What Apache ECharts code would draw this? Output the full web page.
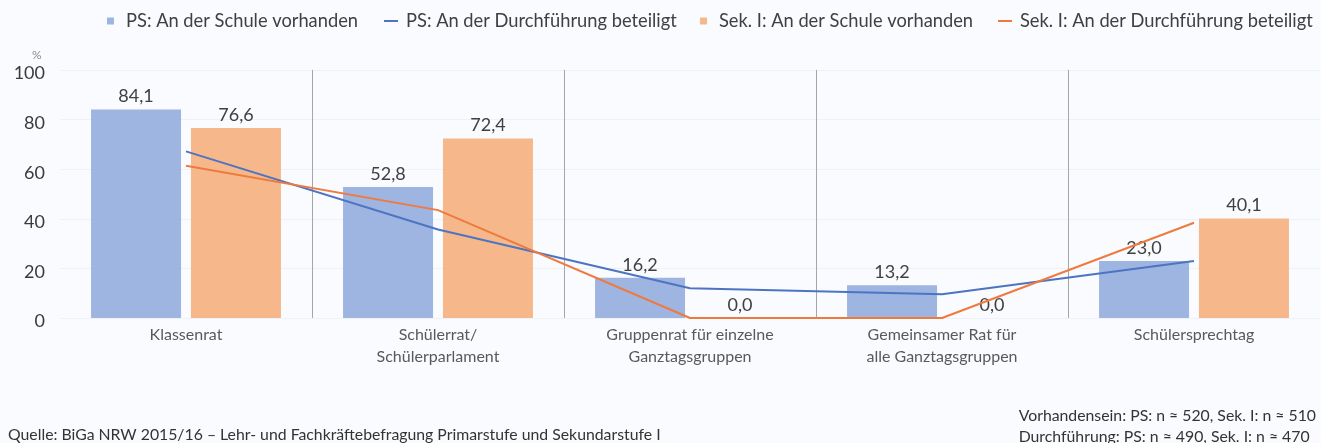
<!DOCTYPE html>
<html>
<head>
<meta charset="utf-8">
<script src="https://cdn.jsdelivr.net/npm/echarts@6/dist/echarts.min.js"></script>
<style>
  html, body { margin: 0; padding: 0; background: #f9fbfe; }
  #chart { width: 1321px; height: 443px; }
</style>
</head>
<body>
<div id="chart"></div>
<script>
// Gremien der Schülerbeteiligung, Primarstufe (PS) und Sekundarstufe I
const categories = [
  'Klassenrat',
  'Schülerrat/\nSchülerparlament',
  'Gruppenrat für einzelne\nGanztagsgruppen',
  'Gemeinsamer Rat für\nalle Ganztagsgruppen',
  'Schülersprechtag'
];
const psVorhanden = [84.1, 52.8, 16.2, 13.2, 23.0];
const sekVorhanden = [76.6, 72.4, 0.0, 0.0, 40.1];
const psBeteiligt = [67.2, 35.7, 12.0, 9.6, 23.0];
const sekBeteiligt = [61.4, 43.5, 0.0, 0.0, 38.4];
const yTicks = { min: 0, max: 100, interval: 20 };

const seriesNames = [
  'PS: An der Schule vorhanden',
  'PS: An der Durchführung beteiligt',
  'Sek. I: An der Schule vorhanden',
  'Sek. I: An der Durchführung beteiligt'
];

const FONT = 'Lato, "Open Sans", sans-serif';
const fmt = v => v.toFixed(1).replace('.', ',');

const chart = echarts.init(document.getElementById('chart'));

function legendItem(name, left, square) {
  return {
    data: [name],
    left: left,
    top: 12,
    padding: 0,
    itemWidth: square ? 7 : 14,
    itemHeight: square ? 7 : 2,
    icon: 'rect',
    selectedMode: false,
    textStyle: { fontFamily: FONT, fontSize: 18.3, color: '#404040', padding: [0, 0, 0, square ? 7 : 3] }
  };
}

const barLabel = {
  show: true,
  position: 'top',
  distance: 4,
  fontFamily: FONT,
  fontSize: 18,
  color: '#404040',
  formatter: p => fmt(p.value)
};

chart.setOption({
  backgroundColor: '#f9fbfe',
  animation: false,
  legend: [
    legendItem(seriesNames[0], 107, true),
    legendItem(seriesNames[1], 384, false),
    legendItem(seriesNames[2], 700, true),
    legendItem(seriesNames[3], 998, false)
  ],
  grid: { left: 60, right: 1, top: 70, bottom: 125, containLabel: false },
  xAxis: {
    type: 'category',
    data: categories,
    axisLine: { show: false },
    axisTick: { show: false },
    axisLabel: {
      interval: 0,
      margin: 6,
      fontFamily: FONT,
      fontSize: 16,
      lineHeight: 22,
      color: '#595959'
    },
    splitLine: {
      show: true,
      showMinLine: false,
      showMaxLine: false,
      lineStyle: { color: '#a6a6a6', width: 1 }
    }
  },
  yAxis: {
    type: 'value',
    min: yTicks.min,
    max: yTicks.max,
    interval: yTicks.interval,
    axisLine: { show: false },
    axisTick: { show: false },
    axisLabel: {
      margin: 15,
      formatter: '{v|{value}}',
      rich: {
        v: { fontFamily: FONT, fontSize: 18, color: '#3a3a3a', padding: [7, 0, 0, 0] }
      }
    },
    splitLine: { show: true, lineStyle: { color: '#eef1f6', width: 1 } }
  },
  graphic: [
    {
      type: 'text', left: 32, top: 49,
      style: { text: '%', fontFamily: FONT, fontSize: 12, fill: '#8a8a8a' }
    },
    {
      type: 'text', left: 8, top: 427,
      style: {
        text: 'Quelle: BiGa NRW 2015/16 – Lehr- und Fachkräftebefragung Primarstufe und Sekundarstufe I',
        fontFamily: FONT, fontSize: 15.8, fill: '#333333'
      }
    },
    {
      type: 'text', right: 5, top: 405,
      style: {
        text: 'Vorhandensein: PS: n ≈ 520, Sek. I: n ≈ 510\nDurchführung: PS: n ≈ 490, Sek. I: n ≈ 470',
        fontFamily: FONT, fontSize: 15.8, lineHeight: 21, fill: '#333333', align: 'right'
      }
    }
  ],
  series: [
    {
      name: seriesNames[0], type: 'bar', data: psVorhanden,
      barWidth: 90, barGap: '11%',
      itemStyle: { color: '#9eb4e1' },
      label: barLabel
    },
    {
      name: seriesNames[2], type: 'bar', data: sekVorhanden,
      barWidth: 90, barGap: '11%',
      itemStyle: { color: '#f6b88a' },
      label: barLabel
    },
    {
      name: seriesNames[1], type: 'line', data: psBeteiligt,
      showSymbol: false, symbol: 'none',
      lineStyle: { color: '#4d74c2', width: 2 },
      itemStyle: { color: '#4d74c2' },
      z: 5
    },
    {
      name: seriesNames[3], type: 'line', data: sekBeteiligt,
      showSymbol: false, symbol: 'none',
      lineStyle: { color: '#ef7a3e', width: 2 },
      itemStyle: { color: '#ef7a3e' },
      z: 5
    }
  ]
});
</script>
</body>
</html>
